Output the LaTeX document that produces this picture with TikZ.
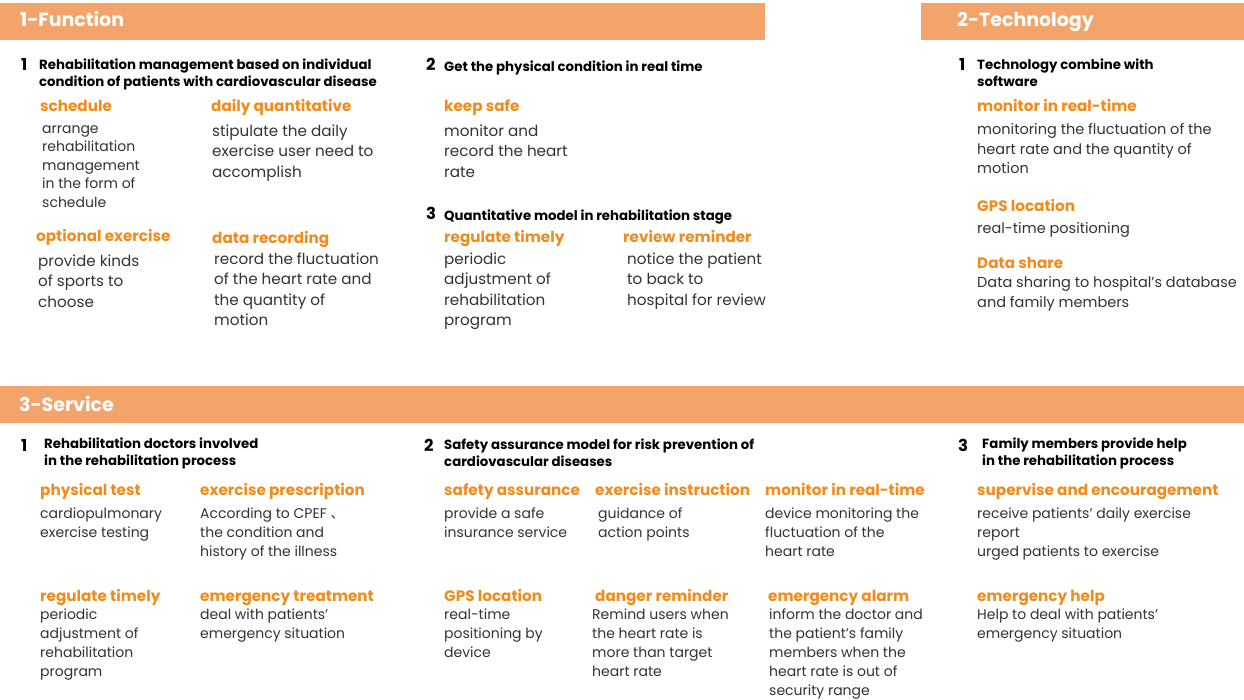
\documentclass[tikz,border=0pt]{standalone}
\usepackage{fontspec}
\setmainfont{Poppins}
\newfontfamily\cjkf{Noto Sans CJK SC}
\definecolor{bannerc}{HTML}{F3A46A}
\definecolor{labc}{HTML}{F08C1E}
\definecolor{txtc}{HTML}{333333}
\tikzset{
  ban/.style={fill=bannerc, draw=none},
  bantxt/.style={anchor=base west, inner sep=0pt, text=white, font=\fontsize{19}{23}\selectfont\bfseries},
  numtxt/.style={anchor=base west, inner sep=0pt, text=black, font=\fontsize{16.5}{20}\selectfont\bfseries},
  blk/.style 2 args={anchor=north west, inner sep=0pt, align=left, yshift=#1, execute at begin node={\rule{0pt}{#2}}},
  headtxt/.style={blk={12pt}{12pt}, text=black, font=\fontsize{13.3}{17}\selectfont\bfseries},
  labtxt/.style={anchor=base west, inner sep=0pt, text=labc, font=\fontsize{15.2}{18}\selectfont\bfseries},
  bodytxt/.style={blk={10.5pt}{13pt}, text=txtc, font=\fontsize{15.2}{20.5}\selectfont},
  smbody/.style={blk={10.5pt}{12pt}, text=txtc, font=\fontsize{14}{19}\selectfont},
  schbody/.style={blk={8pt}{12pt}, text=txtc, font=\fontsize{14}{18.6}\selectfont},
  tbody/.style={blk={11.5pt}{12.5pt}, text=txtc, font=\fontsize{14.5}{19.5}\selectfont}
}
\begin{document}
\begin{tikzpicture}[x=1pt,y=-1pt]
\useasboundingbox[fill=white] (0,0) rectangle (1244,700);
% banners
\fill[ban] (0,3) rectangle (765,40);
\fill[ban] (921,3) rectangle (1244,40);
\fill[ban] (0,386) rectangle (1244,423);
\node[bantxt] (b1) at (20,27) {1-Function};
\node[bantxt] (b2) at (957,27) {2-Technology};
\node[bantxt] (b3) at (19,411) {3-Service};

% ---------- 1-Function ----------
\node[numtxt] (f1n) at (21,71) {1};
\node[headtxt] (f1h) at (39,71) {Rehabilitation management based on individual\\condition of patients with cardiovascular disease};
\node[labtxt] (schL) at (40,112) {schedule};
\node[schbody] (schB) at (42,133) {arrange\\rehabilitation\\management\\in the form of\\schedule};
\node[labtxt] (dqL) at (211,112) {daily quantitative};
\node[bodytxt] (dqB) at (212,135) {stipulate the daily\\exercise user need to\\accomplish};
\node[labtxt] (oeL) at (36,242) {optional exercise};
\node[bodytxt] (oeB) at (38,265) {provide kinds\\of sports to\\choose};
\node[labtxt] (drL) at (212,244) {data recording};
\node[bodytxt] (drB) at (214,263) {record the fluctuation\\of the heart rate and\\the quantity of\\motion};

\node[numtxt] (f2n) at (426,71) {2};
\node[headtxt] (f2h) at (444,71) {Get the physical condition in real time};
\node[labtxt] (ksL) at (444,112) {keep safe};
\node[bodytxt] (ksB) at (444,135) {monitor and\\record the heart\\rate};
\node[numtxt] (f3n) at (426,220) {3};
\node[headtxt] (f3h) at (444,220) {Quantitative model in rehabilitation stage};
\node[labtxt] (rtL) at (444,243) {regulate timely};
\node[bodytxt] (rtB) at (444,263) {periodic\\adjustment of\\rehabilitation\\program};
\node[labtxt] (rrL) at (623,243) {review reminder};
\node[bodytxt] (rrB) at (627,263) {notice the patient\\to back to\\hospital for review};

% ---------- 2-Technology ----------
\node[numtxt] (t1n) at (959,71) {1};
\node[headtxt] (t1h) at (977,71) {Technology combine with\\software};
\node[labtxt] (mrL) at (977,112) {monitor in real-time};
\node[tbody] (mrB) at (977,135) {monitoring the fluctuation of the\\heart rate and the quantity of\\motion};
\node[labtxt] (gpL) at (977,212) {GPS location};
\node[tbody] (gpB) at (977,232) {real-time positioning};
\node[labtxt] (dsL) at (977,269) {Data share};
\node[tbody] (dsB) at (977,288) {Data sharing to hospital’s database\\and family members};

% ---------- 3-Service ----------
\node[numtxt] (s1n) at (21,451) {1};
\node[headtxt] (s1h) at (44,450) {Rehabilitation doctors involved\\in the rehabilitation process};
\node[labtxt] (ptL) at (40,495) {physical test};
\node[smbody] (ptB) at (40,518) {cardiopulmonary\\exercise testing};
\node[labtxt] (epL) at (200,495) {exercise prescription};
\node[smbody] (epB) at (200,518) {According to CPEF {\cjkf 、}\\the condition and\\history of the illness};
\node[labtxt] (srtL) at (40,601) {regulate timely};
\node[smbody] (srtB) at (40,619) {periodic\\adjustment of\\rehabilitation\\program};
\node[labtxt] (etL) at (200,601) {emergency treatment};
\node[smbody] (etB) at (200,619) {deal with patients'\\emergency situation};

\node[numtxt] (s2n) at (424,451) {2};
\node[headtxt] (s2h) at (444,451) {Safety assurance model for risk prevention of\\cardiovascular diseases};
\node[labtxt] (saL) at (444,495) {safety assurance};
\node[smbody] (saB) at (444,518) {provide a safe\\insurance service};
\node[labtxt] (eiL) at (595,495) {exercise instruction};
\node[smbody] (eiB) at (598,518) {guidance of\\action points};
\node[labtxt] (smL) at (765,495) {monitor in real-time};
\node[smbody] (smB) at (765,518) {device monitoring the\\fluctuation of the\\heart rate};
\node[labtxt] (sgL) at (444,601) {GPS location};
\node[smbody] (sgB) at (444,619) {real-time\\positioning by\\device};
\node[labtxt] (dnL) at (595,601) {danger reminder};
\node[smbody] (dnB) at (592,619) {Remind users when\\the heart rate is\\more than target\\heart rate};
\node[labtxt] (eaL) at (768,601) {emergency alarm};
\node[smbody] (eaB) at (769,619) {inform the doctor and\\the patient's family\\members when the\\heart rate is out of\\security range};

\node[numtxt] (s3n) at (958,451) {3};
\node[headtxt] (s3h) at (982,450) {Family members provide help\\in the rehabilitation process};
\node[labtxt] (seL) at (977,495) {supervise and encouragement};
\node[smbody] (seB) at (977,518) {receive patients’ daily exercise\\report\\urged patients to exercise};
\node[labtxt] (ehL) at (977,601) {emergency help};
\node[smbody] (ehB) at (977,619) {Help to deal with patients’\\emergency situation};
\end{tikzpicture}
\end{document}
